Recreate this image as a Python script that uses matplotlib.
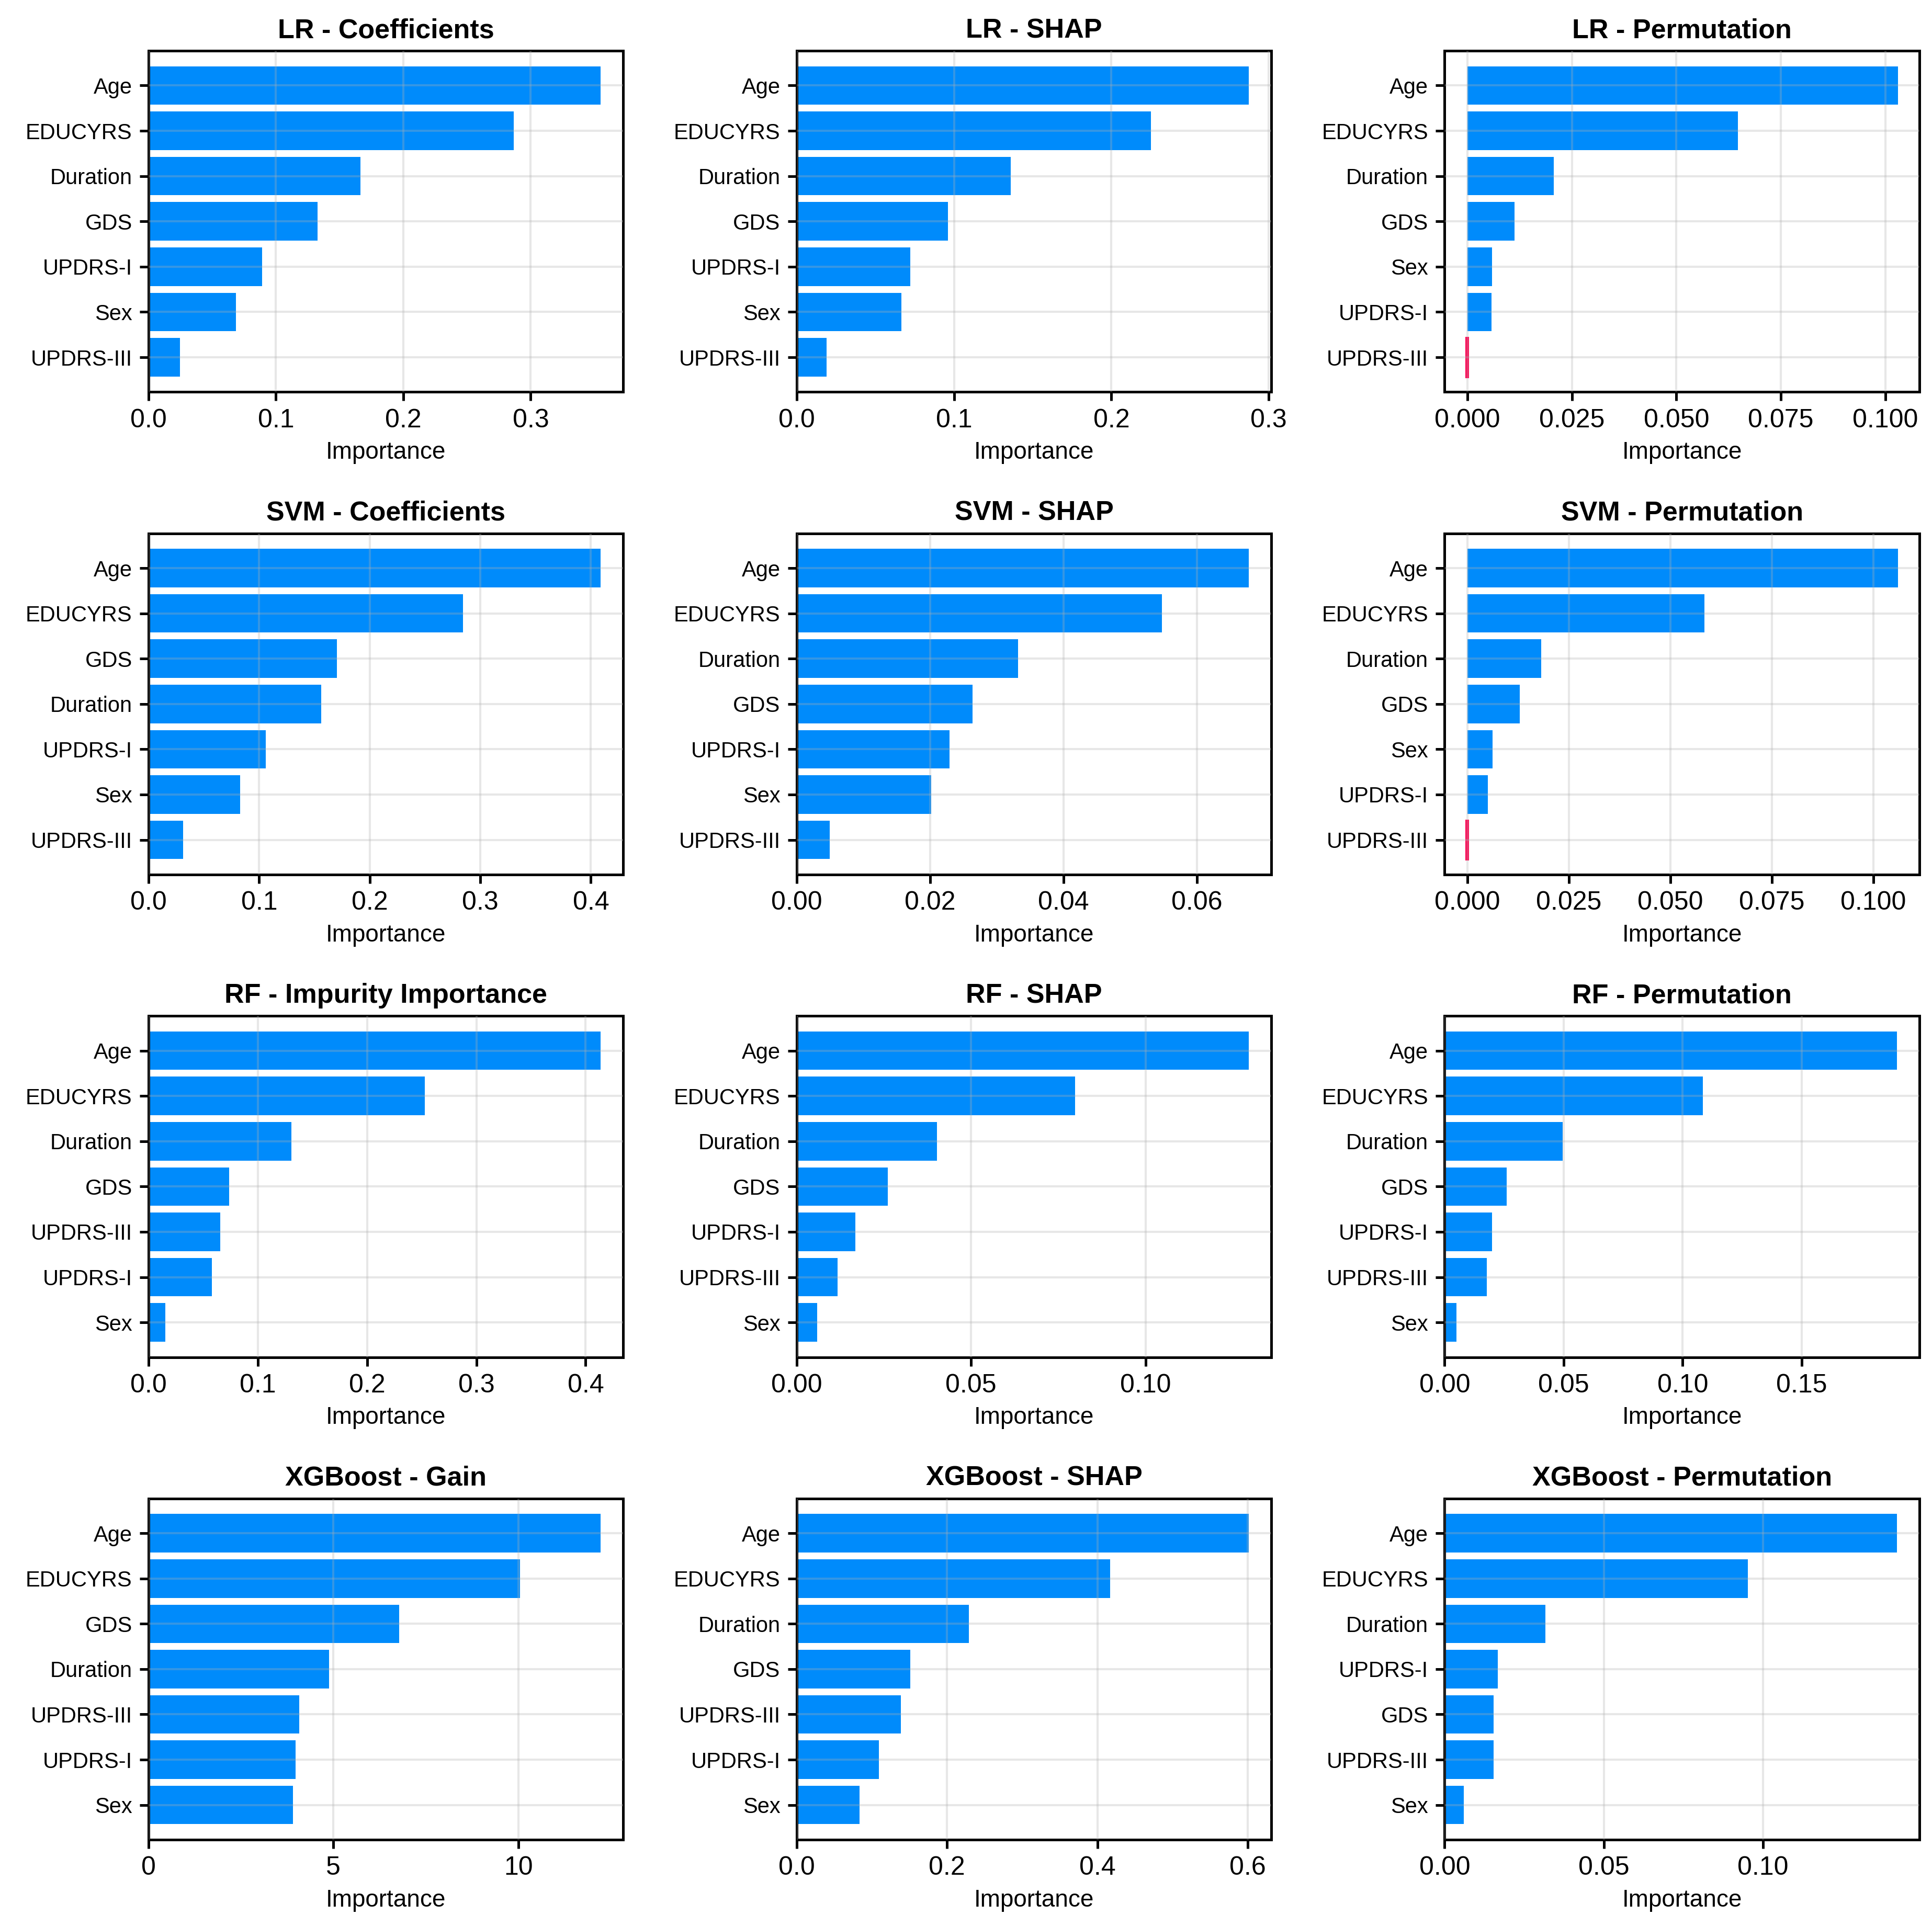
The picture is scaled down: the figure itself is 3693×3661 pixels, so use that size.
import matplotlib
matplotlib.use("Agg")
import matplotlib.pyplot as plt
from matplotlib.ticker import MaxNLocator

plt.rcParams['font.family'] = ['Liberation Sans', 'DejaVu Sans']

# ---- data (top to bottom order in each panel) ----
lr_coef_features = ['Age', 'EDUCYRS', 'Duration', 'GDS', 'UPDRS-I', 'Sex', 'UPDRS-III']
lr_coef_values = [0.355, 0.2865, 0.1665, 0.1326, 0.089, 0.0684, 0.0245]

lr_shap_features = ['Age', 'EDUCYRS', 'Duration', 'GDS', 'UPDRS-I', 'Sex', 'UPDRS-III']
lr_shap_values = [0.2873, 0.2252, 0.1362, 0.0963, 0.0721, 0.0667, 0.0189]

lr_perm_features = ['Age', 'EDUCYRS', 'Duration', 'GDS', 'Sex', 'UPDRS-I', 'UPDRS-III']
lr_perm_values = [0.1030, 0.0647, 0.0206, 0.0113, 0.0059, 0.0057, -0.0003]

svm_coef_features = ['Age', 'EDUCYRS', 'GDS', 'Duration', 'UPDRS-I', 'Sex', 'UPDRS-III']
svm_coef_values = [0.4089, 0.2845, 0.1705, 0.1563, 0.1058, 0.0830, 0.0310]

svm_shap_features = ['Age', 'EDUCYRS', 'Duration', 'GDS', 'UPDRS-I', 'Sex', 'UPDRS-III']
svm_shap_values = [0.0678, 0.0548, 0.0332, 0.0264, 0.0229, 0.0202, 0.0050]

svm_perm_features = ['Age', 'EDUCYRS', 'Duration', 'GDS', 'Sex', 'UPDRS-I', 'UPDRS-III']
svm_perm_values = [0.1060, 0.0583, 0.0182, 0.0129, 0.0062, 0.0050, -0.0003]

rf_imp_features = ['Age', 'EDUCYRS', 'Duration', 'GDS', 'UPDRS-III', 'UPDRS-I', 'Sex']
rf_imp_values = [0.4138, 0.2529, 0.1309, 0.0735, 0.0655, 0.0577, 0.0155]

rf_shap_features = ['Age', 'EDUCYRS', 'Duration', 'GDS', 'UPDRS-I', 'UPDRS-III', 'Sex']
rf_shap_values = [0.1296, 0.0798, 0.0402, 0.0262, 0.0168, 0.0118, 0.0059]

rf_perm_features = ['Age', 'EDUCYRS', 'Duration', 'GDS', 'UPDRS-I', 'UPDRS-III', 'Sex']
rf_perm_values = [0.1900, 0.1084, 0.0496, 0.0260, 0.0199, 0.0177, 0.0050]

xgb_gain_features = ['Age', 'EDUCYRS', 'GDS', 'Duration', 'UPDRS-III', 'UPDRS-I', 'Sex']
xgb_gain_values = [12.23, 10.04, 6.78, 4.88, 4.08, 3.97, 3.90]

xgb_shap_features = ['Age', 'EDUCYRS', 'Duration', 'GDS', 'UPDRS-III', 'UPDRS-I', 'Sex']
xgb_shap_values = [0.6014, 0.4169, 0.2293, 0.1510, 0.1388, 0.1097, 0.0840]

xgb_perm_features = ['Age', 'EDUCYRS', 'Duration', 'UPDRS-I', 'GDS', 'UPDRS-III', 'Sex']
xgb_perm_values = [0.1421, 0.0953, 0.0317, 0.0167, 0.0154, 0.0154, 0.0060]

titles = [
    'LR - Coefficients', 'LR - SHAP', 'LR - Permutation',
    'SVM - Coefficients', 'SVM - SHAP', 'SVM - Permutation',
    'RF - Impurity Importance', 'RF - SHAP', 'RF - Permutation',
    'XGBoost - Gain', 'XGBoost - SHAP', 'XGBoost - Permutation',
]
panels = [
    (lr_coef_features, lr_coef_values), (lr_shap_features, lr_shap_values), (lr_perm_features, lr_perm_values),
    (svm_coef_features, svm_coef_values), (svm_shap_features, svm_shap_values), (svm_perm_features, svm_perm_values),
    (rf_imp_features, rf_imp_values), (rf_shap_features, rf_shap_values), (rf_perm_features, rf_perm_values),
    (xgb_gain_features, xgb_gain_values), (xgb_shap_features, xgb_shap_values), (xgb_perm_features, xgb_perm_values),
]

POS_COLOR = '#008bfb'
NEG_COLOR = '#ff0051'

fig, axes = plt.subplots(4, 3, figsize=(3693 / 300, 3661 / 300), dpi=300)
fig.subplots_adjust(left=0.0769, right=0.9935, top=0.9735, bottom=0.0393,
                    wspace=0.365, hspace=0.414)

for ax, title, (feats, vals) in zip(axes.flat, titles, panels):
    colors = [POS_COLOR if v >= 0 else NEG_COLOR for v in vals]
    ypos = list(range(len(feats)))
    bars = ax.barh(ypos, vals, height=0.85, color=colors)
    for b, v in zip(bars, vals):
        if v < 0:
            b.set_edgecolor(NEG_COLOR)
            b.set_linewidth(1.2)
    ax.set_yticks(ypos)
    ax.set_yticklabels(feats, fontsize=10)
    ax.invert_yaxis()
    ax.xaxis.set_major_locator(MaxNLocator(nbins=5, steps=[1, 2, 2.5, 5, 10]))
    ax.set_title(title, fontsize=12.5, fontweight='bold')
    ax.set_xlabel('Importance', fontsize=11)
    ax.tick_params(axis='x', labelsize=12, length=4, width=1.2)
    ax.tick_params(axis='y', length=4, width=1.2)
    ax.set_axisbelow(False)
    ax.grid(True, color='#b0b0b0', alpha=0.3, linewidth=1.0)
    for sp in ax.spines.values():
        sp.set_linewidth(1.2)

fig.savefig('out.png', dpi=300)
